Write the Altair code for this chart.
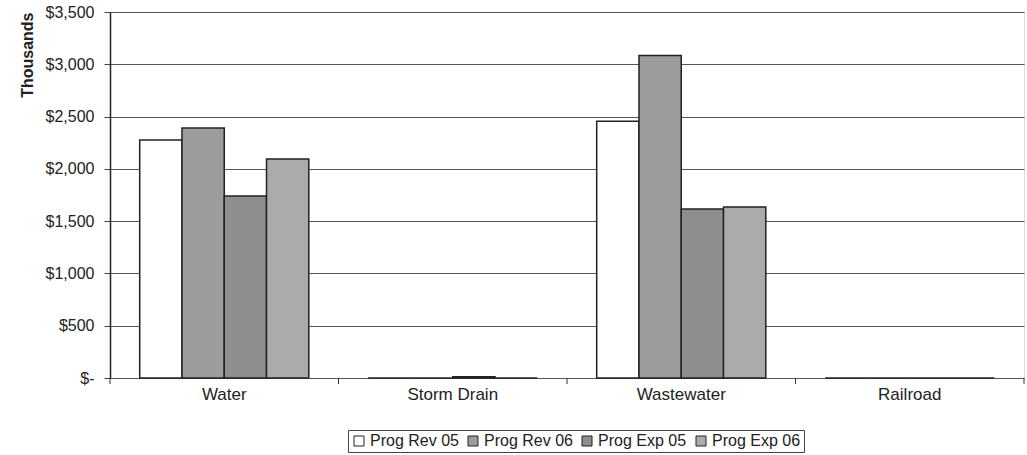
import altair as alt
import pandas as pd

categories = ["Water", "Storm Drain", "Wastewater", "Railroad"]
series = ["Prog Rev 05", "Prog Rev 06", "Prog Exp 05", "Prog Exp 06"]
prog_rev_05 = [2275, 0, 2455, 0]
prog_rev_06 = [2390, 0, 3085, 0]
prog_exp_05 = [1740, 12, 1615, 0]
prog_exp_06 = [2095, 0, 1635, 0]
colors = ["#ffffff", "#9c9c9c", "#8e8e8e", "#ababab"]

rows = []
for s, vals in zip(series, [prog_rev_05, prog_rev_06, prog_exp_05, prog_exp_06]):
    for c, v in zip(categories, vals):
        rows.append({"Category": c, "Series": s, "Value": v})
df = pd.DataFrame(rows)
bounds = pd.DataFrame({"Category": categories})

FONT = "Liberation Sans"
xscale = alt.Scale(domain=categories, paddingInner=0.26, paddingOuter=0.13)
half_gap = 0.26 * 228.5 / 2

bars = alt.Chart(df).mark_bar(stroke="#222222", strokeWidth=1.5).encode(
    x=alt.X("Category:N", sort=categories, scale=xscale,
            axis=alt.Axis(title=None, labelAngle=0, labelFontSize=17, labelColor="#222",
                          labelFont=FONT, ticks=False, domain=False,
                          labelPadding=8)),
    xOffset=alt.XOffset("Series:N", sort=series, scale=alt.Scale(paddingInner=0)),
    y=alt.Y("Value:Q", scale=alt.Scale(domain=[0, 3500]),
            axis=alt.Axis(title="Thousands", titleFontSize=16, titleFontWeight="bold",
                          titleFont=FONT, titleColor="#222", titlePadding=10,
                          titleAnchor="end",
                          values=[0, 500, 1000, 1500, 2000, 2500, 3000, 3500],
                          labelExpr="datum.value == 0 ? '$-' : '$' + format(datum.value, ',')",
                          labelFontSize=16, labelFont=FONT, labelColor="#222",
                          tickSize=6, tickColor="#444", domainColor="#222", domainWidth=1.5,
                          gridColor="#555", gridWidth=1, labelPadding=10)),
    color=alt.Color("Series:N", sort=series,
                    scale=alt.Scale(domain=series, range=colors),
                    legend=alt.Legend(title=None, orient="none", direction="horizontal",
                                      legendX=238, legendY=418, symbolType="square",
                                      symbolSize=100, symbolStrokeColor="#222",
                                      symbolStrokeWidth=1, labelFontSize=16,
                                      labelFont=FONT, labelColor="#222",
                                      strokeColor="#444", padding=3, columnPadding=6,
                                      labelOffset=3)),
)

ticks_left = alt.Chart(bounds).mark_rule(color="#333", strokeWidth=1, xOffset=-half_gap).encode(
    x=alt.X("Category:N", sort=categories, scale=xscale, bandPosition=0),
    y=alt.value(366), y2=alt.value(372),
)
ticks_right = alt.Chart(bounds[bounds.Category == "Railroad"]).mark_rule(
    color="#333", strokeWidth=1, xOffset=half_gap).encode(
    x=alt.X("Category:N", sort=categories, scale=xscale, bandPosition=1),
    y=alt.value(366), y2=alt.value(372),
)

chart = alt.layer(bars, ticks_left, ticks_right).properties(
    width=914, height=366,
    autosize=alt.AutoSizeParams(type="none"),
    padding={"left": 110, "top": 12, "right": 3, "bottom": 77},
).configure_view(stroke=None).configure(background="white")

chart.save("out.html", embed_options={"renderer": "svg", "actions": False})
